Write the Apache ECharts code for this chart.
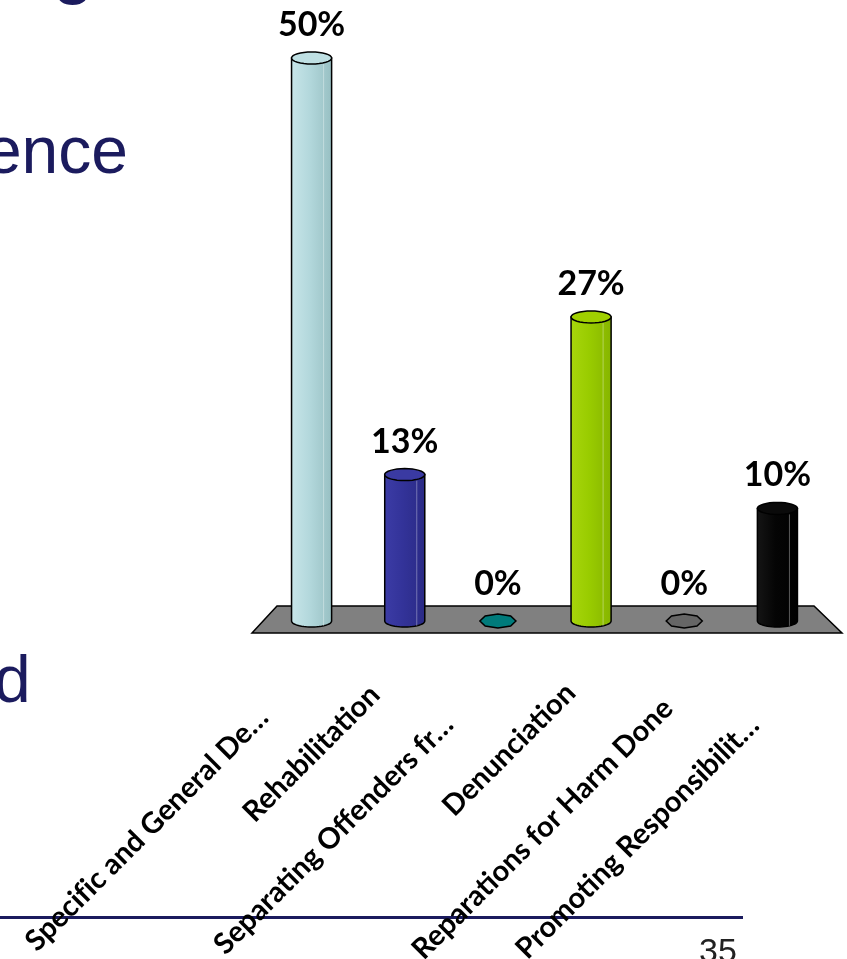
<!DOCTYPE html>
<html>
<head>
<meta charset="utf-8">
<script src="https://cdn.jsdelivr.net/npm/echarts@6/dist/echarts.min.js"></script>
<style>
  html, body { margin: 0; padding: 0; background: #ffffff; }
  #chart { width: 847px; height: 959px; }
</style>
</head>
<body>
<div id="chart"></div>
<script>
// Poll results: share of responses per sentencing objective
const categories = [
  'Specific and General De…',
  'Rehabilitation',
  'Separating Offenders fr…',
  'Denunciation',
  'Reparations for Harm Done',
  'Promoting Responsibilit…'
];
const percentages = [50, 13, 0, 27, 0, 10];

// Cylinder shading per bar: [left, middle, right, cap]
const palette = [
  ['#c8e6e9', '#b3d8dc', '#97bfc2', '#bfe0e3'],
  ['#3c3ca6', '#333399', '#2a2a85', '#3a3aa2'],
  ['#008a8a', '#007b7b', '#006a6a', '#007b7b'],
  ['#a8d60c', '#99cc00', '#86b400', '#a0d000'],
  ['#707070', '#666666', '#595959', '#666666'],
  ['#151515', '#050505', '#000000', '#0a0a0a']
];

// Staggered category labels: [shift back along the text, lift above / drop below the baseline]
const labelShift = [[48, 20], [19, 23], [54, 16], [11, 18], [19, 4], [36, -3]];

const NAVY = '#1b1b5e';
const LABEL_FONT = 'Lato, "Open Sans", sans-serif';

function ellipsePts(cx, cy, rx, ry, a0, a1, n) {
  const pts = [];
  for (let k = 0; k <= n; k++) {
    const a = a0 + (a1 - a0) * k / n;
    pts.push([cx + rx * Math.cos(a), cy + ry * Math.sin(a)]);
  }
  return pts;
}

function renderCylinder(params, api) {
  const idx = api.value(0);
  const val = api.value(1);
  const base = api.coord([idx, 0]);
  const top = api.coord([idx, val]);
  const band = api.size([1, 0])[0];
  const rx = band * 0.215;
  const ry = 6;
  const cx = base[0];
  const col = palette[params.dataIndex];
  const children = [];

  if (val > 0) {
    const body = [[cx - rx, top[1]]]
      .concat(ellipsePts(cx, base[1], rx, ry, Math.PI, 0, 24))
      .concat([[cx + rx, top[1]]]);
    children.push({
      type: 'polygon',
      shape: { points: body },
      style: {
        fill: new echarts.graphic.LinearGradient(0, 0, 1, 0, [
          { offset: 0, color: col[0] },
          { offset: 0.45, color: col[1] },
          { offset: 1, color: col[2] }
        ]),
        stroke: '#000',
        lineWidth: 1.5
      }
    });
    children.push({
      type: 'line',
      shape: { x1: cx + rx * 0.6, y1: top[1] + ry, x2: cx + rx * 0.6, y2: base[1] + ry * 0.8 },
      style: { stroke: 'rgba(255,255,255,0.35)', lineWidth: 1 }
    });
    children.push({
      type: 'polygon',
      shape: { points: ellipsePts(cx, top[1], rx, ry, 0, Math.PI * 2, 32) },
      style: { fill: col[3], stroke: '#000', lineWidth: 1.5 }
    });
  } else {
    children.push({
      type: 'polygon',
      shape: { points: ellipsePts(cx, base[1], rx * 0.9, 7, 0, Math.PI * 2, 8) },
      style: { fill: col[1], stroke: '#000', lineWidth: 1.5 }
    });
  }

  children.push({
    type: 'text',
    style: {
      text: val + '%',
      x: cx,
      y: top[1] - (val > 0 ? 33 : 37),
      fill: '#000',
      font: 'bold 34px ' + LABEL_FONT,
      align: 'center',
      verticalAlign: 'middle'
    }
  });

  return { type: 'group', children: children };
}

function renderFloor(params, api) {
  const cs = params.coordSys;
  const y0 = api.coord([0, 0])[1];
  const left = cs.x, right = cs.x + cs.width;
  return {
    type: 'polygon',
    shape: {
      points: [
        [left + 12, y0 - 15],
        [right - 10, y0 - 15],
        [right + 18, y0 + 12],
        [left - 13, y0 + 12]
      ]
    },
    style: { fill: '#808080', stroke: '#000', lineWidth: 1.5 }
  };
}

const labelRich = {};
labelShift.forEach(function (s, i) {
  labelRich['l' + i] = {
    fontFamily: LABEL_FONT,
    fontWeight: 'bold',
    fontSize: 29,
    color: '#000',
    padding: s[1] >= 0 ? [0, s[0], s[1] * 2, 0] : [-s[1] * 2, s[0], 0, 0]
  };
});

const chart = echarts.init(document.getElementById('chart'), null, { renderer: 'canvas' });

chart.setOption({
  backgroundColor: '#ffffff',
  animation: false,
  grid: {
    left: 265, top: 58, width: 559, height: 563,
    containLabel: false,
    outerBoundsMode: 'none'
  },
  xAxis: {
    type: 'category',
    data: categories,
    axisLine: { show: false },
    axisTick: { show: false },
    axisLabel: {
      rotate: 45,
      margin: 72,
      interval: 0,
      color: '#000',
      fontFamily: LABEL_FONT,
      fontWeight: 'bold',
      fontSize: 29,
      formatter: function (value, index) {
        // keep "f" and "i" as separate glyphs (no ligature)
        return '{l' + index + '|' + value.replace(/fi/g, 'f\u200Ci') + '}';
      },
      rich: labelRich
    }
  },
  yAxis: {
    type: 'value',
    min: 0,
    max: 50,
    show: false,
    splitLine: { show: false }
  },
  graphic: [
    { type: 'text', left: 52, top: -70, style: { text: 'g', fill: NAVY, font: '76px "Liberation Sans", Arial, sans-serif' } },
    { type: 'text', right: 847 - 128, top: 122, style: { text: 'ence', fill: NAVY, font: '66px "Liberation Sans", Arial, sans-serif' } },
    { type: 'text', left: -6, top: 651, style: { text: 'd', fill: NAVY, font: '66px "Liberation Sans", Arial, sans-serif' } },
    { type: 'rect', left: 0, top: 916, shape: { width: 743, height: 3 }, style: { fill: NAVY } },
    { type: 'text', left: 699, top: 936, style: { text: '35', fill: '#222', font: '34px "Liberation Sans", Arial, sans-serif' } }
  ],
  series: [
    {
      type: 'custom',
      name: 'floor',
      z: 1,
      silent: true,
      renderItem: renderFloor,
      data: [[0, 0]]
    },
    {
      type: 'custom',
      name: 'Responses',
      z: 2,
      renderItem: renderCylinder,
      encode: { x: 0, y: 1 },
      data: percentages.map(function (v, i) { return [i, v]; })
    }
  ]
});
</script>
</body>
</html>
